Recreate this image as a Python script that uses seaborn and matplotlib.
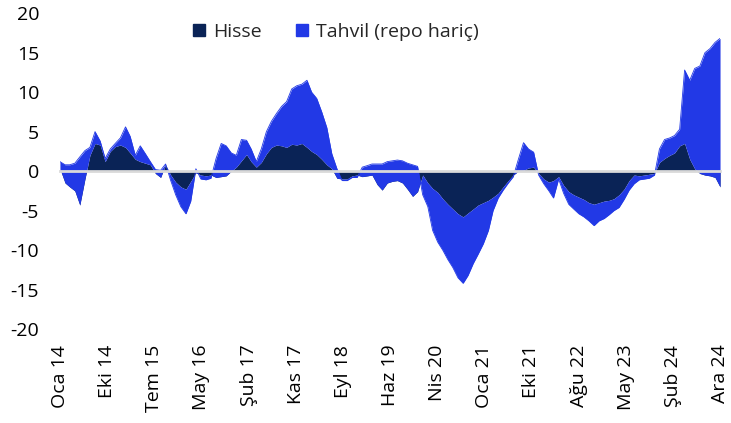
import numpy as np
import pandas as pd
import matplotlib
matplotlib.use("Agg")
import matplotlib.pyplot as plt
import matplotlib.dates as mdates
from matplotlib.patches import Patch
import seaborn as sns

# aylik veriler, Oca 2014 - Ara 2024
months = pd.date_range("2014-01-01", "2024-12-01", freq="MS")

hisse = [0.3, -1.5, -2.0, -2.5, -4.3, -1.0, 2.0, 3.5, 3.3, 1.2, 2.5, 3.1,
         3.3, 3.0, 2.3, 1.5, 1.2, 1.0, 0.8, -0.3, -0.8, 0.8, -0.5, -1.4,
         -2.0, -2.3, -1.3, -0.2, -0.5, -0.6, -0.5, -0.8, -0.7, -0.6, 0.0, 0.5,
         1.3, 2.1, 1.2, 0.5, 1.1, 2.2, 3.0, 3.3, 3.2, 3.0, 3.4, 3.3,
         3.5, 3.0, 2.5, 2.1, 1.5, 0.8, 0.3, -0.9, -1.0, -1.0, -0.6, -0.5,
         -0.7, -0.6, -0.5, -1.7, -2.4, -1.5, -1.3, -1.2, -1.5, -2.3, -3.2, -2.6,
         -0.5, -1.5, -2.2, -2.7, -3.5, -4.2, -4.8, -5.4, -5.8, -5.3, -4.8, -4.3,
         -4.0, -3.7, -3.3, -2.8, -2.0, -1.2, -0.5, 0.0, 0.1, 0.4, 0.5, -0.3,
         -1.0, -1.4, -1.2, -0.7, -1.8, -2.6, -3.0, -3.3, -3.6, -4.0, -4.2, -4.0,
         -3.8, -3.7, -3.5, -3.0, -2.3, -1.2, -0.5, -0.6, -0.5, -0.4, -0.3, 1.1,
         1.6, 2.0, 2.3, 3.2, 3.5, 1.5, 0.3, -0.3, -0.5, -0.6, -0.8, -2.0]

tahvil = [0.9, 2.3, 2.8, 3.5, 6.1, 3.6, 1.0, 1.5, 0.5, 0.4, 0.3, 0.4,
          0.9, 2.6, 2.1, 0.5, 2.0, 1.2, 0.4, 0.5, 0.9, 0.1, -0.7, -1.6,
          -2.5, -3.1, -2.5, 0.5, -0.5, -0.5, -0.4, 2.4, 4.2, 3.8, 2.3, 1.5,
          2.7, 1.8, 1.6, 0.7, 1.7, 2.8, 3.3, 4.0, 5.0, 5.8, 7.0, 7.5,
          7.5, 8.5, 7.5, 7.1, 6.0, 4.7, 1.9, 1.2, -0.2, -0.2, -0.2, -0.3,
          1.2, 1.3, 1.4, 2.6, 3.3, 2.7, 2.6, 2.6, 2.8, 3.3, 4.0, 3.2,
          -2.5, -3.0, -5.3, -6.3, -6.5, -7.0, -7.4, -8.1, -8.4, -7.9, -6.9, -6.2,
          -5.2, -3.8, -1.7, -0.6, -0.4, -0.3, -0.2, 1.5, 3.5, 2.4, 1.9, -0.2,
          -0.6, -1.1, -2.2, -0.3, -1.0, -1.6, -1.8, -2.1, -2.2, -2.3, -2.7, -2.3,
          -2.2, -1.8, -1.5, -1.6, -1.3, -1.2, -1.1, -0.5, -0.5, -0.5, -0.2, 1.7,
          2.4, 2.2, 2.2, 2.1, 9.3, 10.0, 12.7, 13.6, 15.5, 16.1, 17.1, 18.8]

tick_labels = ["Oca 14", "Eki 14", "Tem 15", "May 16", "Şub 17", "Kas 17",
               "Eyl 18", "Haz 19", "Nis 20", "Oca 21", "Eki 21", "Ağu 22",
               "May 23", "Şub 24", "Ara 24"]

df = pd.DataFrame({"tarih": months, "Hisse": hisse, "Tahvil": tahvil})
df["toplam"] = df["Hisse"] + df["Tahvil"]

sns.set_theme(style="white")
plt.rcParams["font.family"] = ["Open Sans", "DejaVu Sans"]
plt.rcParams["axes.unicode_minus"] = False

koyu = "#0a2356"
mavi = "#2239e6"
gri = "#d9d9d9"

fig = plt.figure(figsize=(7.31, 4.23), dpi=100)
ax = fig.add_axes([0.082, 0.222, 0.903, 0.747])

ax.fill_between(df["tarih"], 0, df["Hisse"], color=koyu, lw=0)
ax.fill_between(df["tarih"], df["Hisse"], df["toplam"], color=mavi, lw=0)
sns.lineplot(data=df, x="tarih", y="toplam", color=mavi, lw=0.6, ax=ax)

for s in ["top", "right", "left"]:
    ax.spines[s].set_visible(False)
ax.spines["bottom"].set_position(("data", 0))
ax.spines["bottom"].set_color(gri)
ax.spines["bottom"].set_linewidth(2)
ax.spines["bottom"].set_zorder(3)

x0, x1 = mdates.date2num(months[0]), mdates.date2num(months[-1])
ax.set_xlim(x0, x1)
ax.set_xticks(np.linspace(x0, x1, len(tick_labels)))
ax.set_xticklabels(tick_labels)
ax.set_ylim(-20, 20)
ax.set_yticks(range(-20, 21, 5))
ax.set_xlabel("")
ax.set_ylabel("")
ax.set_axisbelow(False)

ax.tick_params(axis="x", length=5, width=1.5, color=gri, direction="out",
               pad=120, labelsize=14, labelcolor="black", labelrotation=90)
ax.tick_params(axis="y", length=0, pad=15, labelsize=14, labelcolor="black")

handles = [Patch(color=koyu, label="Hisse"), Patch(color=mavi, label="Tahvil (repo hariç)")]
ax.legend(handles=handles, ncol=2, loc="center", bbox_to_anchor=(0.418, 0.94),
          frameon=False, fontsize=14, handlelength=0.6, handleheight=0.6,
          handletextpad=0.4, columnspacing=1.8)

fig.savefig("out.png", dpi=100)
